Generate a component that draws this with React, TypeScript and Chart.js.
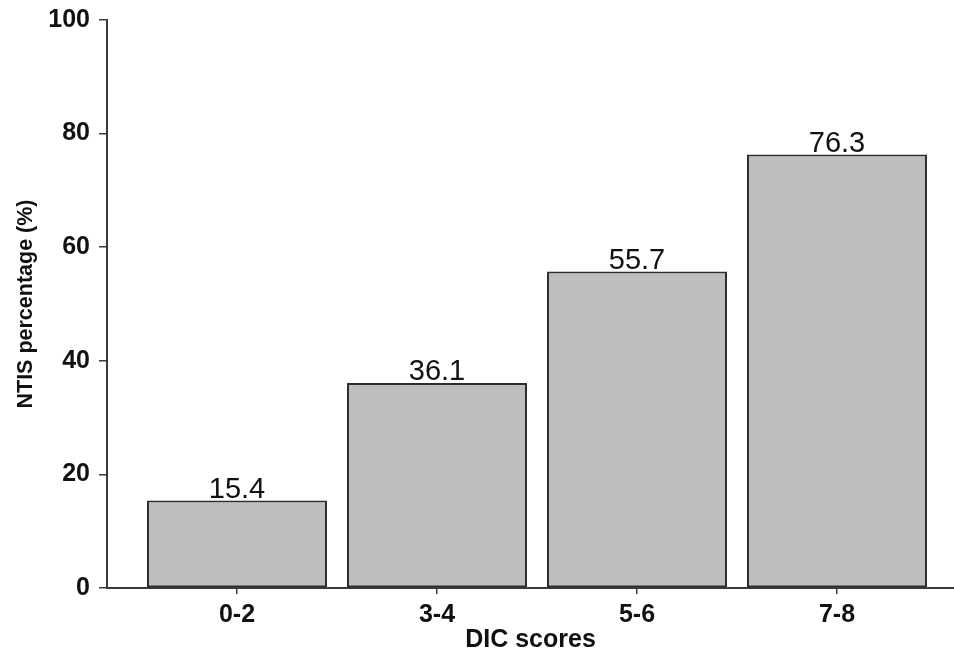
import React, { useEffect, useRef } from 'react';
import Chart from 'chart.js/auto';

const categories = ['0-2', '3-4', '5-6', '7-8'];
const ntisPercent = [15.4, 36.1, 55.7, 76.3];
const yTicks = [0, 20, 40, 60, 80, 100];

const FONT = 'Arial, "Liberation Sans", Helvetica, sans-serif';
const INK = '#111111';
const AXIS = '#3a3a3a';

const valueLabels = {
  id: 'valueLabels',
  afterDatasetsDraw(chart: Chart) {
    const { ctx } = chart;
    const meta = chart.getDatasetMeta(0);
    ctx.save();
    ctx.font = `29px ${FONT}`;
    ctx.fillStyle = INK;
    ctx.textAlign = 'center';
    ctx.textBaseline = 'alphabetic';
    meta.data.forEach((bar: any, i: number) => {
      ctx.fillText(ntisPercent[i].toFixed(1), bar.x, bar.y - 3);
    });
    ctx.restore();
  },
};

export default function App() {
  const canvasRef = useRef<HTMLCanvasElement>(null);
  const chartRef = useRef<Chart | null>(null);

  useEffect(() => {
    document.body.style.margin = '0';
    if (!canvasRef.current) return;
    if (chartRef.current) chartRef.current.destroy();

    const points = categories.map((_, i) => ({ x: i + 1, y: ntisPercent[i] }));

    chartRef.current = new Chart(canvasRef.current, {
      type: 'bar',
      data: {
        datasets: [{
          data: points,
          backgroundColor: '#bebebe',
          borderColor: '#2e2e2e',
          borderWidth: 2,
          borderSkipped: false,
          categoryPercentage: 1,
          barPercentage: 0.9,
        }],
      },
      options: {
        animation: false,
        responsive: true,
        maintainAspectRatio: false,
        layout: { padding: { top: 20, left: 0, right: 0, bottom: 0 } },
        plugins: {
          legend: { display: false },
          tooltip: { enabled: false },
        },
        scales: {
          x: {
            type: 'linear',
            min: 0.35,
            max: 4.585,
            offset: false,
            afterBuildTicks: (axis: any) => {
              axis.ticks = categories.map((_, i) => ({ value: i + 1 }));
            },
            afterFit: (axis: any) => {
              axis.height = 64;
              axis.paddingLeft = 0;
              axis.paddingRight = 0;
            },
            ticks: {
              color: INK,
              font: { family: FONT, size: 25, weight: 'bold' },
              padding: 6,
              maxRotation: 0,
              autoSkip: false,
              callback: (v: any) => categories[Math.round(Number(v)) - 1] ?? '',
            },
            grid: {
              display: true,
              offset: false,
              drawOnChartArea: false,
              drawTicks: true,
              tickLength: 6,
              color: AXIS,
              lineWidth: 1.5,
            },
            border: { display: true, color: AXIS, width: 2 },
            title: {
              display: true,
              text: 'DIC scores',
              color: INK,
              font: { family: FONT, size: 25, weight: 'bold' },
              padding: { top: 0, bottom: -3 },
            },
          },
          y: {
            min: 0,
            max: 100,
            afterBuildTicks: (axis: any) => {
              axis.ticks = yTicks.map((v) => ({ value: v }));
            },
            afterFit: (axis: any) => {
              axis.width = 107;
              axis.paddingTop = 0;
              axis.paddingBottom = 0;
            },
            ticks: {
              color: INK,
              font: { family: FONT, size: 25, weight: 'bold' },
              padding: 9,
            },
            grid: {
              display: true,
              drawOnChartArea: false,
              drawTicks: true,
              tickLength: 8,
              color: AXIS,
              lineWidth: 1.5,
            },
            border: { display: true, color: AXIS, width: 2 },
            title: {
              display: true,
              text: 'NTIS percentage (%)',
              color: INK,
              font: { family: FONT, size: 21.5, weight: 'bold' },
              padding: { top: 13, bottom: 0 },
            },
          },
        },
      },
      plugins: [valueLabels],
    });

    return () => {
      if (chartRef.current) {
        chartRef.current.destroy();
        chartRef.current = null;
      }
    };
  }, []);

  return (
    <div style={{ position: 'relative', width: 954, height: 652, background: '#ffffff' }}>
      <canvas ref={canvasRef} />
    </div>
  );
}
